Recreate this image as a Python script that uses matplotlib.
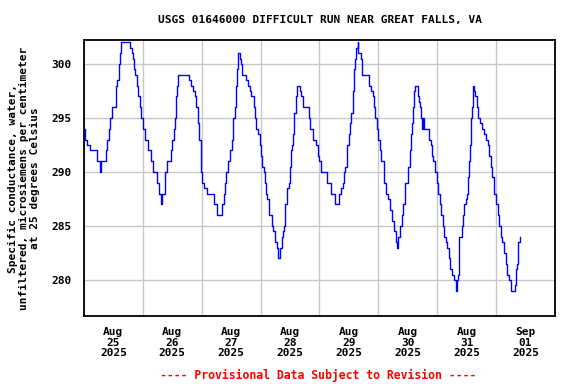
import matplotlib
matplotlib.use('Agg')
import matplotlib.pyplot as plt
import matplotlib.dates as mdates
import pandas as pd

# Hours since 2025-08-25 00:00 at each step change
hours = [0.1, 0.4, 1.4, 2.4, 5.2, 6.6, 6.9, 8.8, 9.5, 10.2, 10.8, 11.5, 13.0, 13.6,
         14.2, 14.6, 15.2, 18.8, 19.4, 19.8, 20.3, 20.7, 21.7, 22.2, 22.8, 23.3,
         24.1, 24.8, 26.2, 27.3, 28.2, 29.8, 30.6, 31.3, 31.7, 33.2, 33.9, 35.3,
         35.9, 36.6, 37.0, 37.4, 37.7, 38.1, 38.5, 42.8, 43.6, 44.5, 45.2, 45.8,
         46.5, 46.9, 47.5, 47.9, 48.3, 48.8, 50.3, 52.9, 54.2, 56.4, 56.9, 57.4,
         58.0, 58.7, 59.7, 60.2, 60.8, 61.4, 61.8, 62.4, 62.8, 63.5, 64.2, 64.6,
         65.9, 66.9, 67.5, 68.2, 69.3, 69.7, 70.2, 70.9, 71.6, 72.0, 72.5, 73.2,
         73.6, 74.0, 74.6, 75.4, 76.5, 77.0, 78.0, 78.6, 79.0, 80.0, 80.6, 81.1,
         81.4, 81.8, 82.1, 82.9, 83.4, 83.8, 84.2, 84.5, 84.7, 85.1, 85.6, 85.8,
         86.3, 86.8, 87.9, 88.3, 89.2, 91.7, 92.3, 93.3, 94.6, 95.3, 96.0, 96.8,
         99.0, 100.9, 102.5, 104.1, 104.8, 105.5, 105.9, 106.6, 107.1, 107.4, 107.9,
         108.5, 109.0, 109.6, 110.1, 110.5, 110.9, 111.5, 111.8, 113.1, 113.5,
         116.1, 117.0, 117.7, 118.4, 118.8, 119.3, 119.9, 120.5, 121.1, 122.1,
         122.5, 123.1, 124.1, 124.8, 125.6, 126.5, 127.2, 127.7, 128.2, 128.8,
         129.5, 130.2, 130.9, 131.9, 132.3, 132.9, 133.3, 133.7, 134.0, 134.4,
         134.9, 136.0, 136.7, 137.1, 137.4, 137.8, 138.3, 138.7, 140.5, 141.4,
         141.8, 142.4, 142.9, 143.9, 144.4, 145.1, 145.5, 146.2, 146.6, 147.6,
         148.1, 148.6, 149.2, 150.2, 150.9, 151.5, 151.9, 152.3, 152.7, 153.0,
         154.0, 154.6, 155.1, 155.7, 156.3, 156.7, 157.0, 157.3, 157.7, 158.1,
         158.4, 158.7, 158.9, 159.5, 160.4, 160.8, 161.5, 162.2, 163.1, 163.8,
         164.5, 165.2, 165.9, 166.5, 167.2, 167.9, 168.8, 169.2, 169.9, 170.6,
         171.3, 171.9, 172.6, 173.3, 174.2, 175.8, 176.3, 176.7, 177.1, 177.7]

conductance = [294, 293, 292.5, 292, 291, 290, 291, 292, 293, 294, 295, 296, 298, 298.5,
               300, 301, 302, 301.5, 301, 300.5, 299.5, 299, 298, 297, 296, 295,
               294, 293, 292, 291, 290, 289, 288, 287, 288, 290, 291, 292,
               293, 294, 295, 296, 297, 298, 299, 298.5, 298, 297.5, 297, 296,
               294.5, 293, 291, 290, 289, 288.5, 288, 287, 286, 287, 288, 289,
               290, 291, 292, 293, 295, 296, 298, 299.5, 301, 300.5, 300, 299,
               298.5, 298, 297.5, 297, 296, 295, 294, 293.5, 292.5, 291.5, 290.5, 290,
               289, 288, 287.5, 286, 285, 284.5, 283.5, 283, 282, 283, 284, 284.5,
               285, 286.5, 287, 288.5, 289, 290.5, 291.5, 292, 292.5, 293.5, 294.5, 295.5,
               297, 298, 297.5, 297, 296, 295, 294, 293, 292.5, 291.5, 291, 290,
               289, 288, 287, 288, 288.5, 289, 290, 290.5, 291.5, 292.5, 293.5,
               294.5, 295.5, 297.5, 299.5, 300.5, 301.5, 302, 301, 300.5, 299,
               298, 297.5, 297, 296, 295, 294, 293, 292, 291, 290,
               289, 288, 287.5, 286.5, 285.5, 284.5, 283.5, 283, 284, 285,
               286, 287, 289, 290.5, 290.5, 292, 293.5, 294.5, 296, 297.5,
               298, 297, 296.5, 296, 295, 294, 295, 294, 293, 292.5,
               291.5, 291, 290, 289, 288, 287, 286, 285, 284, 283.5,
               283, 282, 281, 280.5, 280, 279, 280, 280.5, 282.5, 284,
               285, 286, 287, 287.5, 288, 289.5, 291, 292.5, 295, 296,
               297, 298, 297.5, 297, 296, 295, 294.5, 294, 293.5, 293,
               292.5, 291.5, 290.5, 289.5, 288, 287, 286, 285, 284, 283.5,
               282.5, 281.5, 280.5, 280, 279, 279.5, 281, 281.5, 283.5, 284]

start = pd.Timestamp('2025-08-25')
times = start + pd.to_timedelta(hours, unit='h')

font = {'family': 'DejaVu Sans Mono', 'weight': 'bold'}

fig = plt.figure(figsize=(5.76, 3.84), dpi=100)
ax = fig.add_axes([0.1458, 0.177, 0.8177, 0.7188])

ax.plot(times, conductance, color='#0000ff', lw=1.0, drawstyle='steps-post')

ax.set_xlim(start, start + pd.Timedelta(days=8))
ax.set_ylim(276.67, 302.22)
ax.set_yticks([280, 285, 290, 295, 300])

# Labels at noon, grid at midnight
ax.xaxis.set_major_locator(mdates.HourLocator(byhour=12))
ax.xaxis.set_major_formatter(mdates.DateFormatter('%b\n%d\n%Y'))
ax.xaxis.set_minor_locator(mdates.DayLocator())
ax.grid(True, which='minor', axis='x', color='#c8c8c8', lw=1.0)
ax.grid(True, which='major', axis='y', color='#c8c8c8', lw=1.0)
ax.set_axisbelow(True)

ax.tick_params(which='both', length=0)
ax.tick_params(axis='y', pad=9, labelsize=8)
ax.tick_params(axis='x', pad=8, labelsize=8)
for lab in ax.get_xticklabels() + ax.get_yticklabels():
    lab.set_fontfamily('DejaVu Sans Mono')
    lab.set_fontweight('bold')
for lab in ax.get_xticklabels():
    lab.set_linespacing(1.05)

for sp in ax.spines.values():
    sp.set_linewidth(1.3)

ax.set_ylabel('Specific conductance, water,\nunfiltered, microsiemens per centimeter\nat 25 degrees Celsius',
              fontsize=8, linespacing=1.1, labelpad=8, **font)

fig.text(0.555, 0.948, 'USGS 01646000 DIFFICULT RUN NEAR GREAT FALLS, VA',
         ha='center', va='center', fontsize=8, **font)
fig.text(0.552, 0.023, '---- Provisional Data Subject to Revision ----',
         ha='center', va='center', fontsize=8.3, color='#ff0000', **font)

fig.savefig('out.png', dpi=100)
